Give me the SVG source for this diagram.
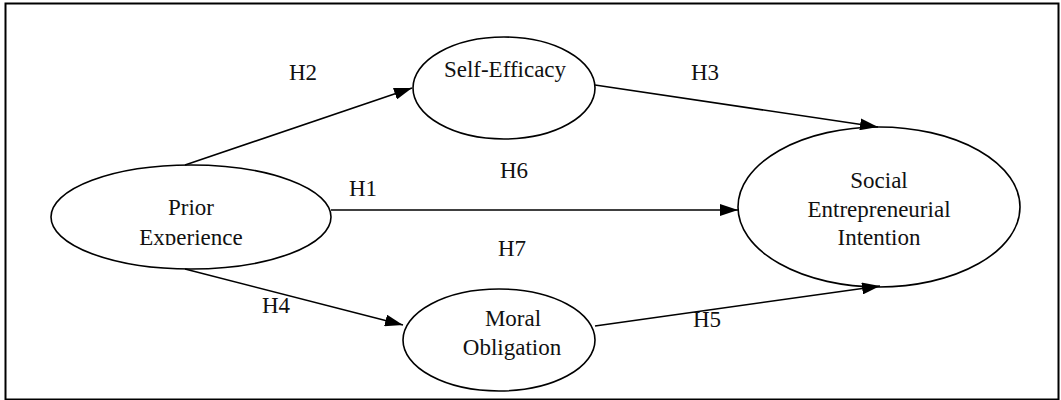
<svg xmlns="http://www.w3.org/2000/svg" width="1061" height="400" viewBox="0 0 1061 400">
<style>
.node{fill:#fff;stroke:#000;stroke-width:1.6}
.lbl{font-family:"Liberation Serif","Times New Roman",serif;font-size:23px;fill:#111;text-anchor:middle}
.edge{stroke:#000;stroke-width:1.6;fill:none;marker-end:url(#ah)}
</style>
<defs>
<marker id="ah" viewBox="0 0 18 12" refX="18" refY="6" markerWidth="18" markerHeight="12" markerUnits="userSpaceOnUse" orient="auto">
<path d="M0,0 L18,6 L0,12 Z" fill="#000"/>
</marker>
<clipPath id="clipPrior"><rect x="90" y="180" width="200" height="65"/></clipPath>
</defs>
<rect x="0" y="0" width="1061" height="400" fill="#fff"/>
<rect x="5.5" y="3.5" width="1053" height="396" fill="none" stroke="#000" stroke-width="2"/>
<g id="prior">
<ellipse class="node" cx="191" cy="217" rx="140" ry="52"/>
<g clip-path="url(#clipPrior)">
<text class="lbl" x="191" y="215">Prior</text>
<text class="lbl" x="191" y="245">Experience</text>
</g>
</g>
<g id="selfefficacy">
<ellipse class="node" cx="504" cy="88" rx="91" ry="51"/>
<text class="lbl" x="505" y="77">Self-Efficacy</text>
</g>
<g id="moral">
<ellipse class="node" cx="499" cy="340" rx="96" ry="51"/>
<text class="lbl" x="513" y="326">Moral</text>
<text class="lbl" x="512" y="355">Obligation</text>
</g>
<g id="sei">
<ellipse class="node" cx="879" cy="207" rx="141" ry="80"/>
<text class="lbl" x="879" y="188">Social</text>
<text class="lbl" x="879" y="217">Entrepreneurial</text>
<text class="lbl" x="879" y="245">Intention</text>
</g>
<g id="connectors">
<line class="edge" x1="185" y1="165" x2="412" y2="88"/>
<line class="edge" x1="595" y1="85" x2="878" y2="127"/>
<line class="edge" x1="331" y1="210" x2="738" y2="210"/>
<line class="edge" x1="185" y1="269" x2="403" y2="325"/>
<line class="edge" x1="595" y1="326" x2="880" y2="286"/>
<text class="lbl" x="303" y="80">H2</text>
<text class="lbl" x="705" y="80">H3</text>
<text class="lbl" x="514" y="178">H6</text>
<text class="lbl" x="363" y="196">H1</text>
<text class="lbl" x="512" y="256">H7</text>
<text class="lbl" x="276" y="313">H4</text>
<text class="lbl" x="707" y="327">H5</text>
</g>
</svg>
